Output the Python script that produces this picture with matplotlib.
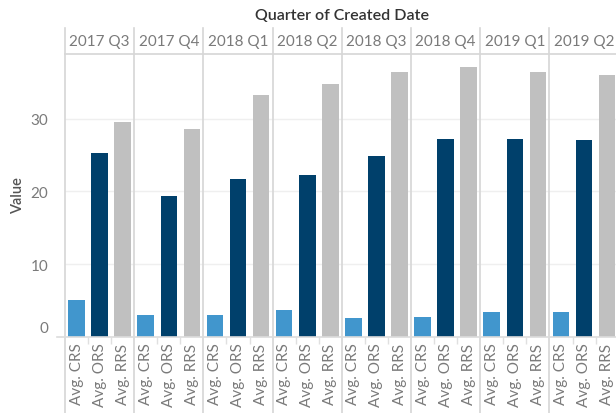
import matplotlib
matplotlib.use("Agg")
import matplotlib.pyplot as plt
import matplotlib.transforms as mtrans
import numpy as np

plt.rcParams['font.family'] = ['Lato', 'DejaVu Sans']

# data
quarters = ["2017 Q3", "2017 Q4", "2018 Q1", "2018 Q2",
            "2018 Q3", "2018 Q4", "2019 Q1", "2019 Q2"]
measures = ["Avg. CRS", "Avg. ORS", "Avg. RRS"]
crs = [5.1, 3.0, 3.0, 3.7, 2.6, 2.8, 3.5, 3.5]
ors = [25.3, 19.4, 21.7, 22.3, 24.9, 27.2, 27.2, 27.1]
rrs = [29.6, 28.6, 33.2, 34.8, 36.4, 37.1, 36.4, 36.0]
colors = ["#4196cd", "#00406b", "#c0c0c0"]

W, H = 616, 414
fig = plt.figure(figsize=(W/100, H/100), dpi=100)
# plot area: x 65..616 px, y 55..338 px (from top)
ax = fig.add_axes([65/W, (H-338)/H, (W-65)/W, (338-55)/H])

n = len(quarters)
xs = np.arange(n)*3
for j, vals in enumerate([crs, ors, rrs]):
    ax.bar(xs+j, vals, width=0.72, color=colors[j], zorder=3)

ax.set_xlim(-0.5, -0.5 + (W-65)/23.07)
ax.set_ylim(0, 38.9)

for s in ax.spines.values():
    s.set_visible(False)

# grid
for y in [10, 20, 30]:
    ax.axhline(y, color="#efefef", lw=1, zorder=1)

tr = mtrans.blended_transform_factory(ax.transData, ax.transAxes)
ytop = (338-29)/(338-55)
ybot = (338-414)/(338-55)
for i in range(n+1):
    x = 3*i - 0.5
    ax.plot([x, x], [ybot, ytop], transform=tr, color="#d6d6d6", lw=1.2,
            clip_on=False, zorder=2)
# header separator and baseline
ax.plot([0, 1], [1, 1], transform=ax.transAxes, color="#d6d6d6", lw=1.2,
        clip_on=False)
ax.plot([-8/(W-65), 1], [0, 0], transform=ax.transAxes, color="#dcdcdc",
        lw=1.2, clip_on=False, zorder=4)

# quarter headers
yh = (338-42)/(338-55)
for i, q in enumerate(quarters):
    ax.text(3*i+1, yh, q, transform=tr, ha="center", va="center",
            fontsize=11, color="#7a7a7a", clip_on=False)

fig.text(342/W, 1-16/H, "Quarter of Created Date", ha="center",
         va="center", fontsize=11.5, color="#333333", fontweight="semibold")

# x ticks
ax.set_xticks(np.arange(n*3))
ax.set_xticklabels(measures*n, rotation=90, fontsize=11, color="#7a7a7a")
ax.set_xticks([3*i+k+0.5 for i in range(n) for k in range(2)], minor=True)
ax.tick_params(axis="x", which="major", length=0, pad=4)
ax.tick_params(axis="x", which="minor", length=5, color="#e0e0e0", width=1)

# y ticks
ax.set_yticks([0, 10, 20, 30])
ax.set_yticklabels(["0", "10", "20", "30"], fontsize=11, color="#7a7a7a")
ax.tick_params(axis="y", length=0, pad=12)
lbl = ax.get_yticklabels()[0]
lbl.set_transform(lbl.get_transform() +
                  mtrans.ScaledTranslation(0, 10/100, fig.dpi_scale_trans))

fig.text(18/W, 1-196/H, "Value", rotation=90, ha="center", va="center",
         fontsize=10.5, color="#555555", fontweight="semibold")

fig.savefig("out.png", dpi=100)
